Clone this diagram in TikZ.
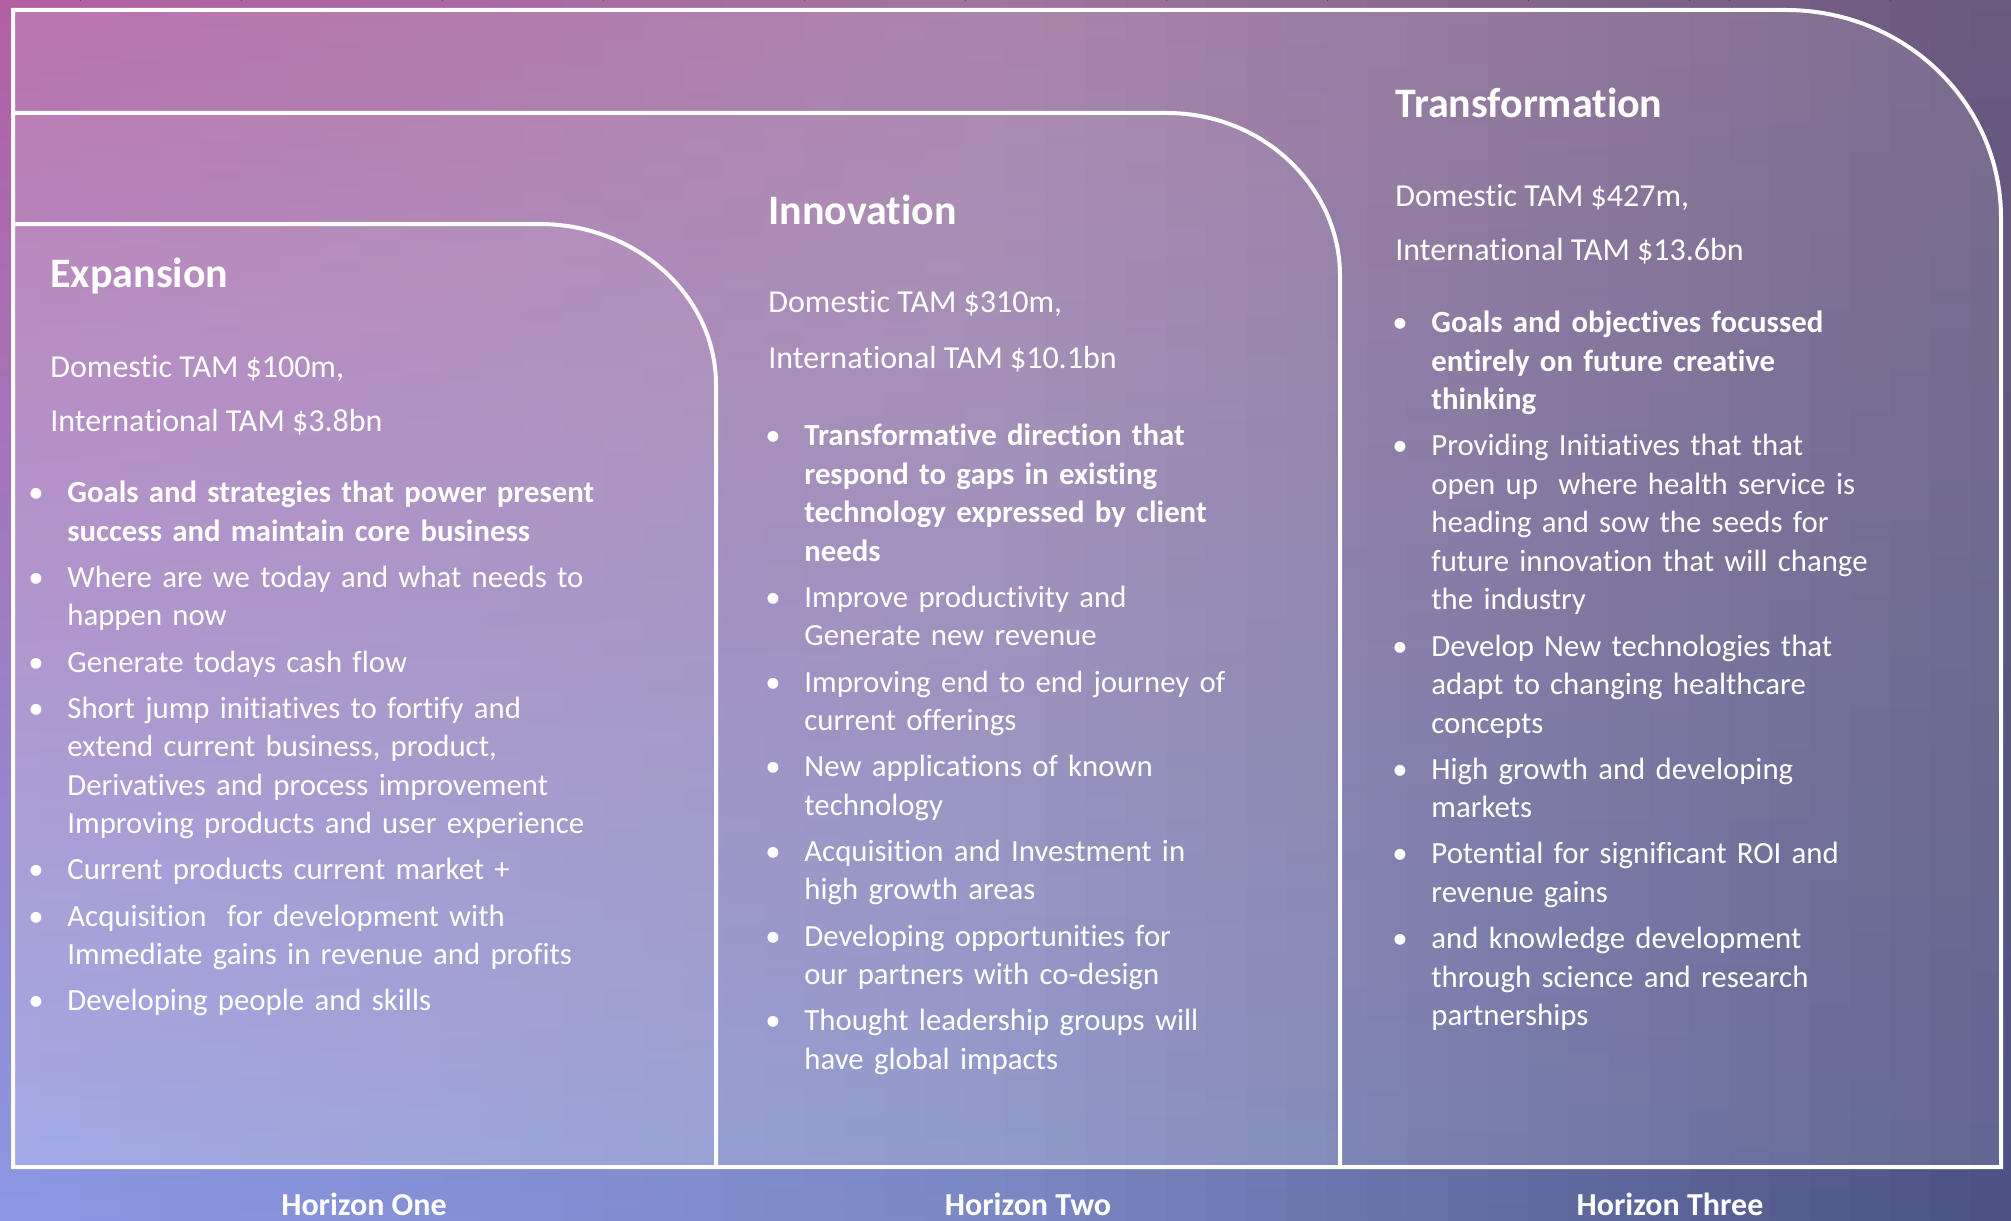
\documentclass[tikz,border=0pt]{standalone}
\usepackage{fontspec}
\setmainfont{Carlito}[Ligatures=NoCommon]
\usepackage{xcolor}
\usepackage{array}
\definecolor{washTL}{RGB}{178,96,162}
\definecolor{washTM}{RGB}{160,116,160}
\definecolor{washTR}{RGB}{106,88,126}
\definecolor{washBL}{RGB}{138,152,228}
\definecolor{washBM}{RGB}{122,136,196}
\definecolor{washBR}{RGB}{74,81,130}
\newcommand{\hzitem}[2][]{\par\noindent\makebox[15.5pt][l]{\kern-4pt\textbullet}\begin{tabular}[t]{@{}>{#1}l@{}}#2\end{tabular}}
\tikzset{
  frame/.style={draw=white, line width=2pt},
  veil/.style={fill=white, fill opacity=#1},
  heading/.style={anchor=base west, inner sep=0pt, text=white, font=\fontsize{21}{25}\selectfont\bfseries},
  tamline/.style={anchor=base west, inner sep=0pt, text=white, font=\fontsize{16}{19.25}\selectfont},
  bullets/.style={anchor=north west, inner sep=0pt, text=white, text width=330pt, align=left,
    font=\fontsize{15.4}{19.25}\selectfont\setlength{\parskip}{3.85pt}\setlength{\lineskip}{0pt}},
  horizon/.style={anchor=base, inner sep=0pt, text=white, font=\fontsize{16}{19}\selectfont\bfseries}
}
\begin{document}
\begin{tikzpicture}[x=0.5pt, y=-0.5pt]
  \useasboundingbox (0,0) rectangle (2011,1220);
  % background wash
  \foreach \i in {0,...,49}{
    \pgfmathtruncatemacro{\q}{mod(\i,25)*4+2}
    \ifnum\i<25 \colorlet{stripTop}{washTM!\q!washTL}\colorlet{stripBot}{washBM!\q!washBL}%
    \else \colorlet{stripTop}{washTR!\q!washTM}\colorlet{stripBot}{washBR!\q!washBM}\fi
    \fill[top color=stripTop, bottom color=stripBot] (\i*40.22,0) rectangle (\i*40.22+41,1220);
  }
  % horizons
  \fill[veil=0.12] (13,1167) -- (13,10) -- (1786,10) .. controls (1905,10) and (2001,103) .. (2001,218) -- (2001,1167) -- cycle;
  \fill[veil=0.05] (13,1167) -- (13,113) -- (1167,113) .. controls (1262,113) and (1340,186) .. (1340,276) -- (1340,1167) -- cycle;
  \fill[veil=0.05] (13,1167) -- (13,224) -- (539,224) .. controls (637,224) and (716,296) .. (716,385) -- (716,1167) -- cycle;
  \draw[frame] (13,1167) -- (13,10) -- (1786,10) .. controls (1905,10) and (2001,103) .. (2001,218) -- (2001,1167) -- cycle;
  \draw[frame] (13,113) -- (1167,113) .. controls (1262,113) and (1340,186) .. (1340,276) -- (1340,1167);
  \draw[frame] (13,224) -- (539,224) .. controls (637,224) and (716,296) .. (716,385) -- (716,1167);

  % horizon one
  \node[heading] (expTitle) at (50,287) {Expansion};
  \node[tamline] (expDom) at (50,377) {Domestic TAM \$100m,};
  \node[tamline] (expIntl) at (50,431) {International TAM \$3.8bn};
  \node[bullets] (expList) at (36,456) {%
    \hzitem[\bfseries]{Goals and strategies that power present\\success and maintain core business}
    \hzitem{Where are we today and what needs to\\happen now}
    \hzitem{Generate todays cash flow}
    \hzitem{Short jump initiatives to fortify and\\extend current business, product,\\Derivatives and process improvement\\Improving products and user experience}
    \hzitem{Current products current market +}
    \hzitem{Acquisition\ \ for development with\\Immediate gains in revenue and profits}
    \hzitem{Developing people and skills}};

  % horizon two
  \node[heading] (innTitle) at (768,224) {Innovation};
  \node[tamline] (innDom) at (768,312) {Domestic TAM \$310m,};
  \node[tamline] (innIntl) at (768,368) {International TAM \$10.1bn};
  \node[bullets] (innList) at (773,399) {%
    \hzitem[\bfseries]{Transformative direction that\\respond to gaps in existing\\technology expressed by client\\needs}
    \hzitem{Improve productivity and\\Generate new revenue}
    \hzitem{Improving end to end journey of\\current offerings}
    \hzitem{New applications of known\\technology}
    \hzitem{Acquisition and Investment in\\high growth areas}
    \hzitem{Developing opportunities for\\our partners with co-design}
    \hzitem{Thought leadership groups will\\have global impacts}};

  % horizon three
  \node[heading] (traTitle) at (1395,118) {Transformation};
  \node[tamline] (traDom) at (1395,206) {Domestic TAM \$427m,};
  \node[tamline] (traIntl) at (1395,260) {International TAM \$13.6bn};
  \node[bullets] (traList) at (1400,286) {%
    \hzitem[\bfseries]{Goals and objectives focussed\\entirely on future creative\\thinking}
    \hzitem{Providing Initiatives that that\\open up\ \ where health service is\\heading and sow the seeds for\\future innovation that will change\\the industry}
    \hzitem{Develop New technologies that\\adapt to changing healthcare\\concepts}
    \hzitem{High growth and developing\\markets}
    \hzitem{Potential for significant ROI and\\revenue gains}
    \hzitem{and knowledge development\\through science and research\\partnerships}};

  % labels
  \node[horizon] (hOne) at (364,1215) {Horizon One};
  \node[horizon] (hTwo) at (1028,1215) {Horizon Two};
  \node[horizon] (hThree) at (1670,1215) {Horizon Three};
\end{tikzpicture}
\end{document}
